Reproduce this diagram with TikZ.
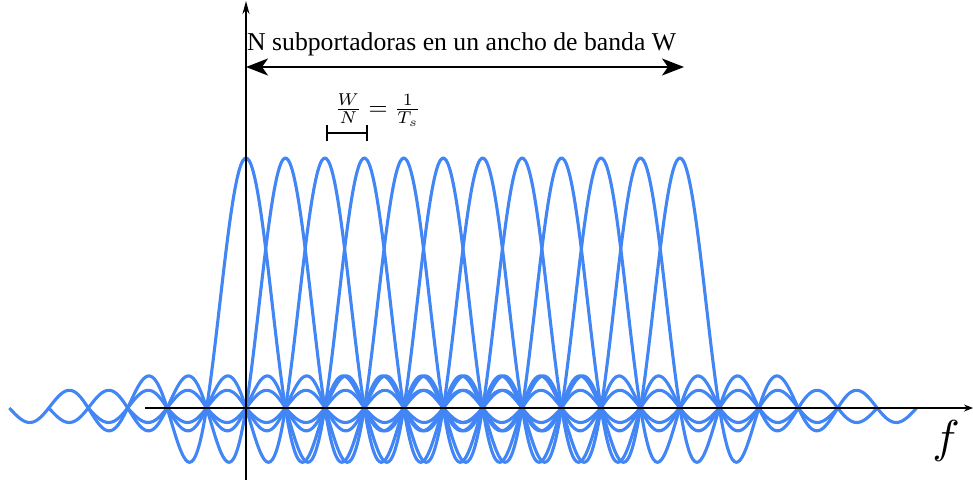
\documentclass[tikz,border=0pt]{standalone}
\usepackage{fontspec}
\setmainfont{Liberation Serif}
\usetikzlibrary{arrows.meta}
\definecolor{sincblue}{RGB}{66,133,244}
\begin{document}
\begin{tikzpicture}[x=1pt,y=-1pt,
  sinc/.style={sincblue,line width=3.1pt,line join=round},
  axisline/.style={black,line width=1.6pt},
  bigarrow/.style={black,line width=2pt,{Stealth[length=22pt,width=17pt,inset=6pt]}-{Stealth[length=22pt,width=17pt,inset=6pt]}}]
\useasboundingbox (0,0) rectangle (973,483);
% sinc curves
\foreach \k in {0,...,11}{
  \pgfmathsetmacro{\xk}{246+39.45*\k}
  \draw[sinc,variable=\t,domain=-6:6,samples=240,smooth]
    plot ({\xk+39.45*\t},{408-250*sin(180*\t)/(pi*\t)});
}
% axes
\coordinate (hx0) at (145,408);
\coordinate (hx1) at (973,408);
\coordinate (vy0) at (246,480);
\coordinate (vy1) at (246,1);
\draw[axisline,-{Stealth[length=9pt,width=7pt]}] (hx0) -- (hx1);
\draw[axisline,-{Stealth[length=13pt,width=7pt]}] (vy0) -- (vy1);
\node[scale=4.6,inner sep=0pt] (flabel) at (946,441) {$f$};
% bandwidth arrow
\coordinate (bw0) at (246,67);
\coordinate (bw1) at (684,67);
\draw[bigarrow] (bw0) -- (bw1);
\node[anchor=south west,inner sep=0pt] (bwlabel) at (247,56) {\fontsize{25.7}{28}\selectfont N subportadoras en un ancho de banda W};
% spacing bracket
\coordinate (br0) at (327,133);
\coordinate (br1) at (367,133);
\draw[black,line width=1.8pt] (br0) -- (br1);
\draw[black,line width=1.8pt] ([yshift=-8pt]br0) -- ([yshift=8pt]br0);
\draw[black,line width=1.8pt] ([yshift=-8pt]br1) -- ([yshift=8pt]br1);
\node[scale=2.45,inner sep=0pt] (splabel) at (378,110) {$\frac{W}{N}=\frac{1}{T_s}$};
\end{tikzpicture}
\end{document}
